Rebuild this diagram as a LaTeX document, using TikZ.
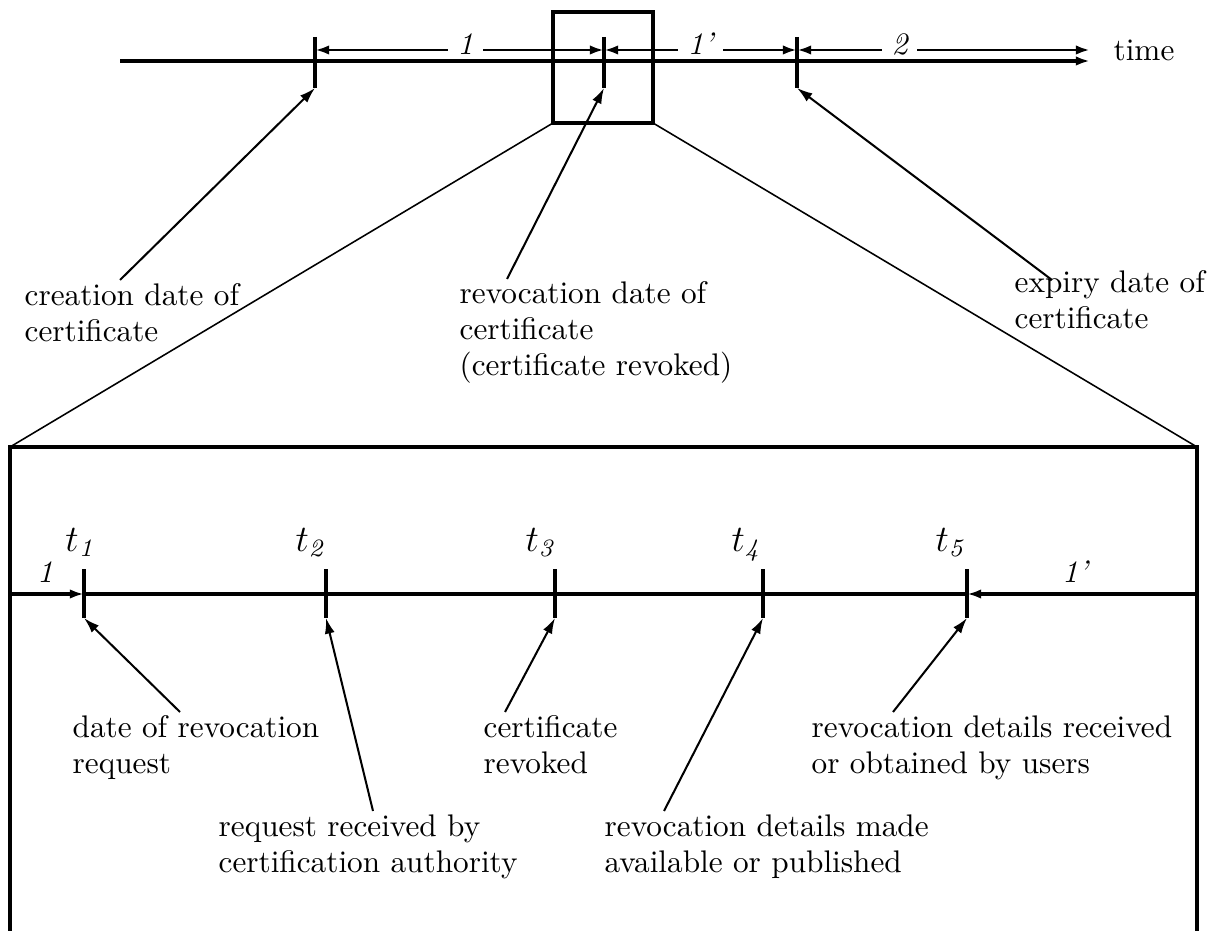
\documentclass[tikz,border=0pt]{standalone}
\usetikzlibrary{arrows.meta}
\tikzset{
  heavy/.style={line width=1pt},
  tip/.style={-{Latex[length=4.5pt,width=3pt]}},
  dimline/.style={line width=0.9pt,{Latex[length=4.5pt,width=3pt]}-{Latex[length=4.5pt,width=3pt]}},
  pointer/.style={line width=0.65pt,-{Latex[length=5pt,width=3.2pt]}},
  seg/.style={fill=white,inner xsep=3pt,inner ysep=1pt,anchor=base,yshift=-1.6pt,font=\itshape},
  note/.style={anchor=north west,align=left,inner sep=0pt,font=\fontsize{10}{11.5}\selectfont},
  tlabel/.style={anchor=base east,inner sep=0pt,font=\large},
}

\begin{document}
\begin{tikzpicture}[x=0.32pt,y=-0.32pt]
			%%%%% START %%%%%
			\useasboundingbox (0,0) rectangle (1225,931);
			
			% time axis at the top
			\coordinate (start) at (120,61);
			\coordinate (end) at (1090,61);
			\draw[heavy,tip] (start) -- (end);
			\node[anchor=base west,inner sep=0pt] (time) at (1113,61) {time};
			
			\foreach \n/\x in {created/315,revoked/604,expiry/797}{
				\draw[heavy] (\x,37) coordinate (top-\n) -- (\x,88) coordinate (\n);
				\coordinate (dim-\n) at (\x,50);
			}
			\coordinate (dimend) at (1090,50);
			\draw[dimline] (dim-created) -- node[seg,pos=.52] (p1) {1} (dim-revoked);
			\draw[dimline] (dim-revoked) -- node[seg,pos=.5] (p1b) {1'} (dim-expiry);
			\draw[dimline] (dim-expiry) -- node[seg,pos=.35] (p2) {2} (dimend);
			
			% zoom box and its enlargement
			\coordinate (zoom nw) at (553,12);
			\coordinate (zoom se) at (653,123);
			\coordinate (zoom sw) at (553,123);
			\coordinate (big nw) at (10,447);
			\coordinate (big ne) at (1197,447);
			\draw[heavy] (zoom nw) rectangle (zoom se);
			\draw[line width=0.5pt] (zoom sw) -- (big nw);
			\draw[line width=0.5pt] (zoom se) -- (big ne);
			\draw[heavy] (10,931) -- (big nw) -- (big ne) -- (1197,931);
			
			% notes on the top axis
			\node[note] (creation) at (24,283) {creation date of\\certificate};
			\node[note] (revocation) at (459,281) {revocation date of\\certificate\\(certificate revoked)};
			\node[note] (expiry date) at (1014,270) {expiry date of\\certificate};
			\coordinate (creation tail) at (120,280);
			\coordinate (revocation tail) at (507,279);
			\coordinate (expiry tail) at (1052,280);
			\draw[pointer] (creation tail) -- (created);
			\draw[pointer] (revocation tail) -- (revoked);
			\draw[pointer] (expiry tail) -- (expiry);
			
			% enlarged axis
			\coordinate (left) at (10,594);
			\coordinate (right) at (1197,594);
			\foreach \i/\x in {1/84,2/326,3/555,4/763,5/967}{
				\draw[line width=1.2pt] (\x,569) -- (\x,618) coordinate (t\i);
				\coordinate (a\i) at (\x,594);
			}
			\draw[heavy,tip] (left) -- (a1);
			\draw[heavy] (a1) -- (a5);
			\draw[heavy,tip] (right) -- (a5);
			\node[anchor=base,inner sep=0pt,font=\itshape] (in1) at (45,582) {1};
			\node[anchor=base,inner sep=0pt,font=\itshape] (in1b) at (1075,582) {1'};
			
			\node[tlabel] (l1) at (98,551) {$t_{\mathit{1}}$};
			\node[tlabel] (l2) at (328,551) {$t_{\mathit{2}}$};
			\node[tlabel] (l3) at (558,551) {$t_{\mathit{3}}$};
			\node[tlabel] (l4) at (764,551) {$t_{\mathit{4}}$};
			\node[tlabel] (l5) at (968,551) {$t_{\mathit{5}}$};
			
			% notes on the enlarged axis
			\node[note] (request) at (72,715) {date of revocation\\request};
			\node[note] (received) at (218,814) {request received by\\certification authority};
			\node[note] (revoked note) at (483,715) {certificate\\revoked};
			\node[note] (published) at (604,814) {revocation details made\\available or published};
			\node[note] (users) at (811,715) {revocation details received\\or obtained by users};
			\coordinate (request tail) at (180,712);
			\coordinate (received tail) at (373,811);
			\coordinate (revoked tail) at (505,712);
			\coordinate (published tail) at (664,811);
			\coordinate (users tail) at (893,712);
			\draw[pointer] (request tail) -- (t1);
			\draw[pointer] (received tail) -- (t2);
			\draw[pointer] (revoked tail) -- (t3);
			\draw[pointer] (published tail) -- (t4);
			\draw[pointer] (users tail) -- (t5);
			
			%%%%% END %%%%%
		\end{tikzpicture}
\end{document}
